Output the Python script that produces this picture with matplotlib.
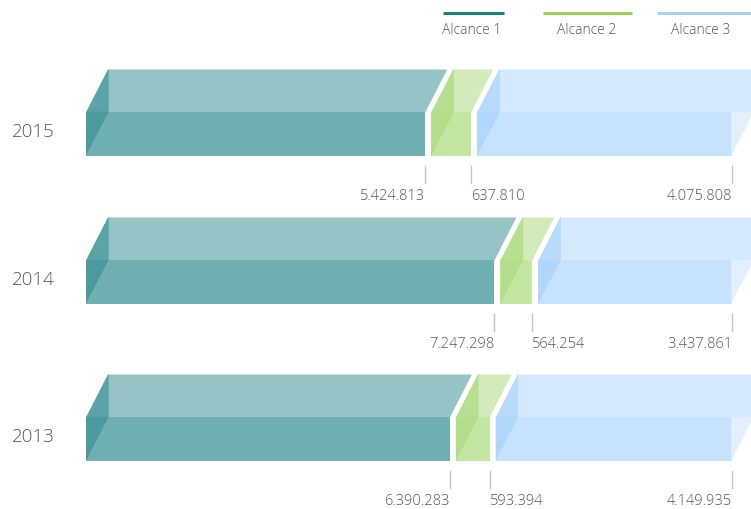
import numpy as np
import matplotlib
matplotlib.use("Agg")
import matplotlib.pyplot as plt
from matplotlib.patches import Polygon
from matplotlib import font_manager

plt.rcParams['font.family'] = ['Open Sans', 'DejaVu Sans']

# data
years = ['2015', '2014', '2013']
alcance1 = [5424813, 7247298, 6390283]
alcance2 = [637810, 564254, 593394]
alcance3 = [4075808, 3437861, 4149935]
series_names = ['Alcance 1', 'Alcance 2', 'Alcance 3']

# colours per series: top, front, left-upper, left-lower, legend line
colors = [
    dict(top='#96c4c6', front='#70afb2', lup='#5aa4a7', llow='#4b9b9e', leg='#1f7f83'),
    dict(top='#d3ebbb', front='#c5e5a3', lup='#b8de90', llow='#b3dc8b', leg='#9ad456'),
    dict(top='#d6eaff', front='#c6e2fe', lup='#b8dafd', llow='#b0d6fc', leg='#a9d0f8'),
]
right_side = '#e2f0fe'
txt = '#555555'

# lighter weight if the installed Open Sans has one
weights = {f.weight for f in font_manager.fontManager.ttflist if f.name == 'Open Sans'}
fw = 'light' if any(w in (300, 'light') for w in weights) else 'normal'

# layout (pixels)
W, H = 751, 510
x_start, x_end, gap = 86, 732, 6
dx, dy = 22, 43
bar_tops = [70.5, 218.5, 375.5]
ov = 0.7  # small overlap so faces don't leave a seam

fig = plt.figure(figsize=(W / 100, H / 100), dpi=100)
ax = fig.add_axes([0, 0, 1, 1])
ax.set_xlim(0, W)
ax.set_ylim(H, 0)
ax.axis('off')


def poly(pts, c):
    ax.add_patch(Polygon(pts, closed=True, facecolor=c, edgecolor='none', lw=0))


vals = np.array([alcance1, alcance2, alcance3], dtype=float).T
for yi, year in enumerate(years):
    top = bar_tops[yi]
    mid = top + dy
    bot = mid + dy
    row = vals[yi]
    widths = row / row.sum() * (x_end - x_start - gap * 2)
    x0 = x_start
    ends = []
    for si in range(3):
        x1 = x0 + widths[si]
        c = colors[si]
        # top face
        poly([(x0, mid), (x1, mid), (x1 + dx, top), (x0 + dx, top)], c['top'])
        poly([(x0, mid), (x0 + dx, top), (x0 + dx + ov, top), (x0 + dx + ov, mid)], c['lup'])
        # front face
        poly([(x0, mid - ov), (x1, mid - ov), (x1, bot), (x0, bot)], c['front'])
        poly([(x0, mid - ov), (x0, bot), (x0 + dx + ov, mid - ov)], c['llow'])
        if si == 2:
            poly([(x1 - ov, mid), (x1 + dx - ov, top), (x1 + dx, mid)], c['top'])
            poly([(x1 - ov, mid - ov), (x1 - ov, bot), (x1 + dx, mid - ov)], right_side)
        ends.append(x1)
        x0 = x1 + gap
    # year label
    ax.text(12, (mid + bot) / 2 - 3, year, fontsize=13.5, color=txt,
            ha='left', va='center', fontweight=fw)
    # value ticks & labels
    aligns = ['right', 'left', 'right']
    for si in range(3):
        xe = ends[si]
        ax.plot([xe, xe], [bot + 10, bot + 27], color='#c4c4c4', lw=1)
        lab = f"{int(row[si]):,}".replace(',', '.')
        ax.text(xe, bot + 40, lab, fontsize=10.5, color=txt,
                ha=aligns[si], va='center', fontweight=fw)

# legend
leg_lines = [(443, 504), (543, 632), (657, 751)]
leg_text_x = [472, 587, 701]
for si in range(3):
    a, b = leg_lines[si]
    ax.plot([a, b], [14, 14], color=colors[si]['leg'], lw=2.2, solid_capstyle='butt')
    ax.text(leg_text_x[si], 30, series_names[si], fontsize=10, color=txt,
            ha='center', va='center', fontweight=fw)

fig.savefig('out.png', dpi=100)
